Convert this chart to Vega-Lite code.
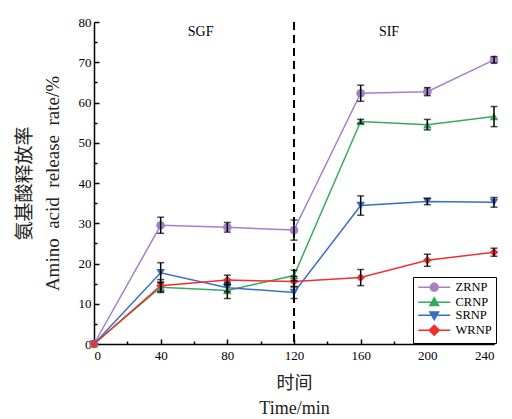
{
  "$schema": "https://vega.github.io/schema/vega-lite/v6.json",
  "width": 400,
  "height": 322,
  "autosize": {"type": "none"},
  "padding": {"left": 94, "top": 22, "right": 18, "bottom": 75},
  "background": "white",
  "config": {
    "font": "Liberation Serif, Noto Sans CJK SC",
    "view": {"stroke": null},
    "axis": {
      "domainColor": "black",
      "domainWidth": 1.5,
      "tickColor": "black",
      "tickWidth": 1.5,
      "grid": false,
      "labelColor": "black",
      "labelFontSize": 13,
      "labelFont": "Liberation Serif",
      "titleColor": "#222",
      "titleFontWeight": "normal",
      "titleFont": "Liberation Serif, Noto Sans CJK SC"
    }
  },
  "data": {
    "values": [
      {"t": 0, "series": "ZRNP", "v": 0, "err": 0},
      {"t": 40, "series": "ZRNP", "v": 29.5, "err": 2.0},
      {"t": 80, "series": "ZRNP", "v": 29.0, "err": 1.2},
      {"t": 120, "series": "ZRNP", "v": 28.3, "err": 2.5},
      {"t": 160, "series": "ZRNP", "v": 62.3, "err": 2.0},
      {"t": 200, "series": "ZRNP", "v": 62.7, "err": 1.0},
      {"t": 240, "series": "ZRNP", "v": 70.6, "err": 0.8},
      {"t": 0, "series": "CRNP", "v": 0, "err": 0},
      {"t": 40, "series": "CRNP", "v": 14.1, "err": 1.3},
      {"t": 80, "series": "CRNP", "v": 13.3, "err": 2.0},
      {"t": 120, "series": "CRNP", "v": 17.0, "err": 1.3},
      {"t": 160, "series": "CRNP", "v": 55.3, "err": 0.5},
      {"t": 200, "series": "CRNP", "v": 54.5, "err": 1.3},
      {"t": 240, "series": "CRNP", "v": 56.5, "err": 2.5},
      {"t": 0, "series": "SRNP", "v": 0, "err": 0},
      {"t": 40, "series": "SRNP", "v": 17.7, "err": 2.5},
      {"t": 80, "series": "SRNP", "v": 14.0, "err": 1.0},
      {"t": 120, "series": "SRNP", "v": 12.8, "err": 1.5},
      {"t": 160, "series": "SRNP", "v": 34.4, "err": 2.4},
      {"t": 200, "series": "SRNP", "v": 35.4, "err": 0.8},
      {"t": 240, "series": "SRNP", "v": 35.2, "err": 1.2},
      {"t": 0, "series": "WRNP", "v": 0, "err": 0},
      {"t": 40, "series": "WRNP", "v": 14.5, "err": 1.5},
      {"t": 80, "series": "WRNP", "v": 15.9, "err": 1.2},
      {"t": 120, "series": "WRNP", "v": 15.5, "err": 1.3},
      {"t": 160, "series": "WRNP", "v": 16.5, "err": 2.0},
      {"t": 200, "series": "WRNP", "v": 20.8, "err": 1.5},
      {"t": 240, "series": "WRNP", "v": 22.8, "err": 1.0}
    ]
  },
  "layer": [
    {
      "mark": {"type": "point", "opacity": 0},
      "encoding": {
        "x": {"field": "t", "type": "quantitative", "scale": {"domain": [0, 240], "nice": false},
          "axis": {"orient": "bottom", "values": [20, 60, 100, 140, 180, 220], "labels": false, "domain": false, "tickSize": -3, "title": null}},
        "y": {"field": "v", "type": "quantitative", "scale": {"domain": [0, 80], "nice": false},
          "axis": {"orient": "left", "values": [5, 15, 25, 35, 45, 55, 65, 75], "labels": false, "domain": false, "tickSize": -3, "title": null}}
      }
    },
    {
      "mark": {"type": "rule", "strokeDash": [8, 5], "strokeWidth": 1.5, "color": "black"},
      "encoding": {"x": {"datum": 120, "type": "quantitative", "axis": null}}
    },
    {
      "mark": {"type": "line", "strokeWidth": 1.5},
      "encoding": {
        "x": {"field": "t", "type": "quantitative", "axis": null},
        "y": {"field": "v", "type": "quantitative", "axis": null},
        "color": {"field": "series", "type": "nominal", "legend": null,
          "scale": {"domain": ["ZRNP", "CRNP", "SRNP", "WRNP"], "range": ["#a77fc6", "#3aa860", "#3a6fc0", "#f03030"]}},
        "detail": {"field": "series"}
      }
    },
    {
      "mark": {"type": "point", "filled": true, "opacity": 1, "size": 75},
      "encoding": {
        "x": {"field": "t", "type": "quantitative",
          "axis": {"orient": "bottom", "values": [0, 40, 80, 120, 160, 200, 240], "tickSize": -5, "labelPadding": 10,
            "title": ["时间", "Time/min"], "titleFontSize": 18, "titleLineHeight": 25, "titlePadding": 12}},
        "y": {"field": "v", "type": "quantitative",
          "axis": {"orient": "left", "values": [0, 10, 20, 30, 40, 50, 60, 70, 80], "tickSize": -5, "labelPadding": 8,
            "title": ["氨基酸释放率", "Amino\u00a0 acid\u00a0 release\u00a0 rate/%"], "titleFontSize": 19, "titleLineHeight": 28, "titlePadding": 16}},
        "color": {"field": "series", "type": "nominal", "legend": null,
          "scale": {"domain": ["ZRNP", "CRNP", "SRNP", "WRNP"], "range": ["#a77fc6", "#3aa860", "#3a6fc0", "#f03030"]}},
        "shape": {"field": "series", "type": "nominal", "legend": null,
          "scale": {"domain": ["ZRNP", "CRNP", "SRNP", "WRNP"], "range": ["circle", "triangle-up", "triangle-down", "diamond"]}}
      }
    },
    {
      "transform": [{"filter": "datum.err > 0"}],
      "mark": {"type": "errorbar", "ticks": {"size": 7}, "color": "black", "thickness": 1.5},
      "encoding": {
        "x": {"field": "t", "type": "quantitative", "axis": null},
        "y": {"field": "v", "type": "quantitative", "axis": null},
        "yError": {"field": "err"}
      }
    },
    {
      "transform": [{"filter": "false"}],
      "mark": {"type": "point", "filled": true, "strokeWidth": 1.5, "opacity": 1},
      "encoding": {
        "x": {"field": "t", "type": "quantitative", "axis": null},
        "y": {"field": "v", "type": "quantitative", "axis": null},
        "color": {"field": "series", "type": "nominal",
          "scale": {"domain": ["ZRNP", "CRNP", "SRNP", "WRNP"], "range": ["#a77fc6", "#3aa860", "#3a6fc0", "#f03030"]},
          "legend": {"title": null, "orient": "none", "legendX": 319, "legendY": 255, "fillColor": "white", "strokeColor": "black",
            "padding": 4, "labelFontSize": 12.5, "labelColor": "black", "labelFont": "Liberation Serif", "symbolSize": 100, "symbolStrokeWidth": 1.5, "rowPadding": -1, "labelOffset": 26}},
        "stroke": {"field": "series", "type": "nominal",
          "scale": {"domain": ["ZRNP", "CRNP", "SRNP", "WRNP"], "range": ["#a77fc6", "#3aa860", "#3a6fc0", "#f03030"]}},
        "shape": {"field": "series", "type": "nominal",
          "scale": {"domain": ["ZRNP", "CRNP", "SRNP", "WRNP"], "range": [
            "M-1,0H5.4M3,0A0.8,0.8,0,1,1,1.4,0A0.8,0.8,0,1,1,3,0Z",
            "M-1,0H5.4M2.2,-0.9L3.08,0.66L1.32,0.66Z",
            "M-1,0H5.4M2.2,0.9L3.08,-0.66L1.32,-0.66Z",
            "M-1,0H5.4M2.2,-1L3.2,0L2.2,1L1.2,0Z"]}}
      }
    },
    {
      "data": {"values": [{"x": 64, "y": 77.5, "label": "SGF"}, {"x": 177, "y": 77.5, "label": "SIF"}]},
      "mark": {"type": "text", "fontSize": 14, "color": "black", "font": "Liberation Serif"},
      "encoding": {
        "x": {"field": "x", "type": "quantitative", "axis": null},
        "y": {"field": "y", "type": "quantitative", "axis": null},
        "text": {"field": "label"}
      }
    }
  ],
  "resolve": {
    "scale": {"color": "independent", "shape": "independent", "stroke": "independent"},
    "axis": {"x": "independent", "y": "independent"}
  }
}
